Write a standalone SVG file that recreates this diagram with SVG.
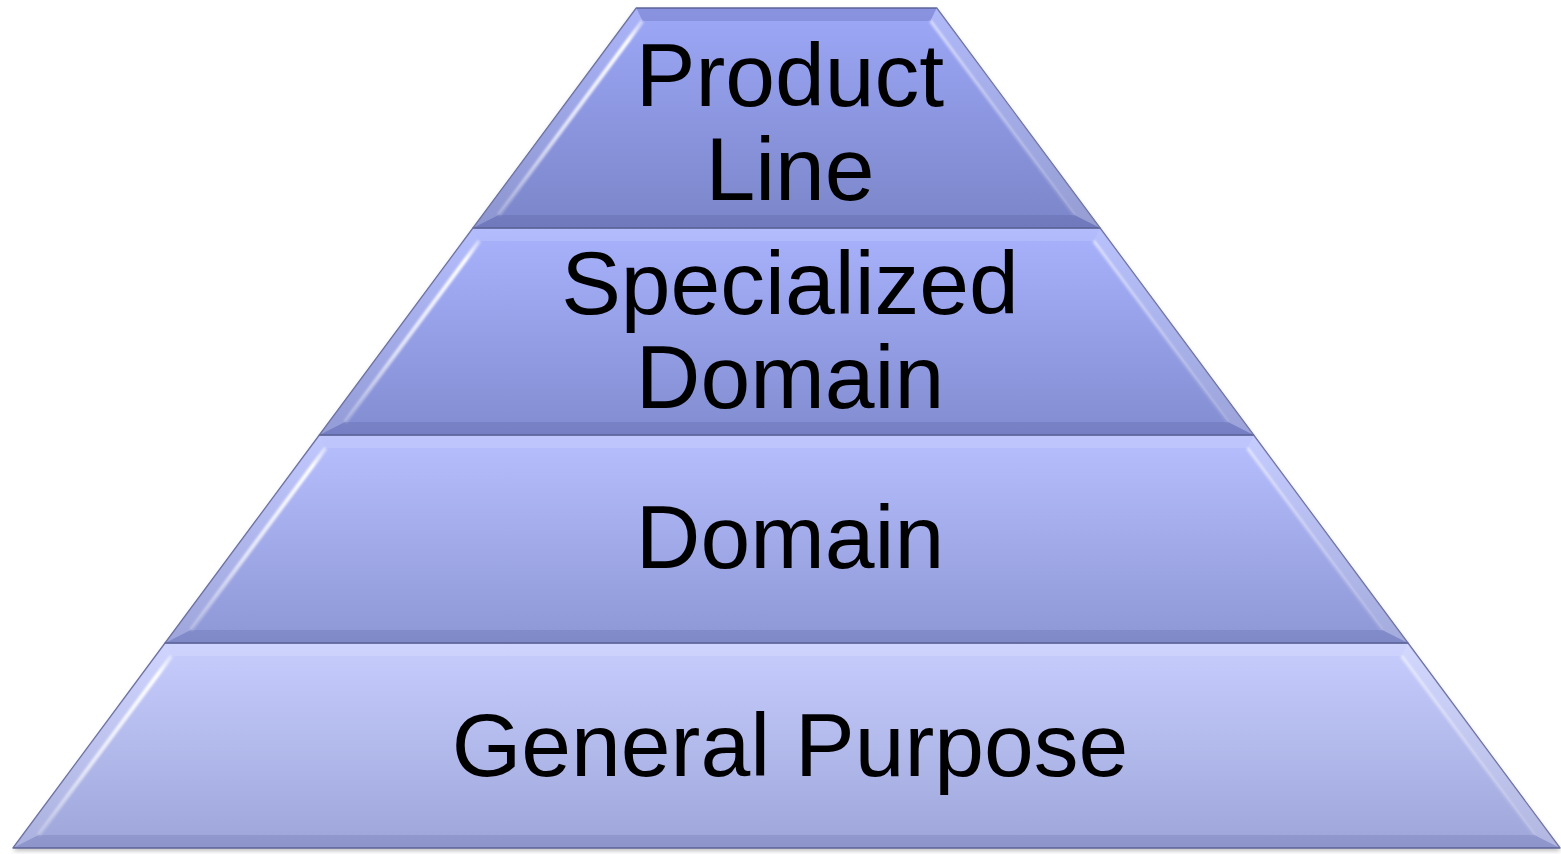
<svg xmlns="http://www.w3.org/2000/svg" width="1561" height="854" viewBox="0 0 1561 854">
<defs>
<linearGradient id="g1" x1="0" y1="0" x2="0" y2="1"><stop offset="0" stop-color="#9da8f8"/><stop offset="1" stop-color="#7b85c8"/></linearGradient>
<linearGradient id="g2" x1="0" y1="0" x2="0" y2="1"><stop offset="0" stop-color="#a9b3fd"/><stop offset="1" stop-color="#828cd0"/></linearGradient>
<linearGradient id="g3" x1="0" y1="0" x2="0" y2="1"><stop offset="0" stop-color="#b7bffe"/><stop offset="1" stop-color="#8e97d5"/></linearGradient>
<linearGradient id="g4" x1="0" y1="0" x2="0" y2="1"><stop offset="0" stop-color="#c7cefe"/><stop offset="1" stop-color="#9ea5d9"/></linearGradient>
<linearGradient id="hl" x1="1" y1="0" x2="0" y2="1"><stop offset="0" stop-color="#fff" stop-opacity="0.4"/><stop offset="0.1" stop-color="#fff" stop-opacity="1"/><stop offset="0.6" stop-color="#fff" stop-opacity="0.7"/><stop offset="1" stop-color="#fff" stop-opacity="0.25"/></linearGradient>
<linearGradient id="hr" x1="0" y1="0" x2="1" y2="1"><stop offset="0" stop-color="#fff" stop-opacity="0.55"/><stop offset="1" stop-color="#fff" stop-opacity="0.15"/></linearGradient>
<filter id="sh" x="-5%" y="-5%" width="110%" height="115%"><feGaussianBlur stdDeviation="2"/></filter>
<filter id="gl" x="-10%" y="-10%" width="120%" height="120%"><feGaussianBlur stdDeviation="0.8"/></filter>
</defs>
<style>
.out{stroke:#62689c;stroke-width:1.3;stroke-linejoin:round}
.topb{fill:#fff;fill-opacity:0.12}
.leftb{fill:#fff;fill-opacity:0.14}
.rightb{fill:#fff;fill-opacity:0.2}
.botb{fill:#2a3070;fill-opacity:0.13}
.hlin{stroke:url(#hl);stroke-width:4;fill:none;filter:url(#gl)}
.hrin{stroke:url(#hr);stroke-width:3;fill:none;filter:url(#gl)}
.lbl{font-family:"Liberation Sans",Arial,sans-serif;font-size:89.5px;fill:#000;text-anchor:middle}
</style>
<rect width="1561" height="854" fill="#fff"/>
<polygon points="636,10 937,10 1561,851 13,851" fill="#000" fill-opacity="0.25" filter="url(#sh)"/>

<g id="layer-general-purpose">
<polygon class="out" points="165.1,643 1407.9,643 1560,848 13,848" fill="url(#g4)"/>
<polygon class="topb" points="165.1,643 1407.9,643 1401.5,656 171.5,656"/>
<polygon class="leftb" points="165.1,643 171.5,656 38.6,835 13,848"/>
<polygon class="rightb" points="1407.9,643 1560,848 1534.4,835 1401.5,656"/>
<polygon class="botb" points="13,848 38.6,835 1534.4,835 1560,848"/>
<line class="hlin" x1="171.5" y1="656" x2="38.6" y2="835"/>
<line class="hrin" x1="1401.5" y1="656" x2="1534.4" y2="835"/>
<text class="lbl" x="790" y="776">General Purpose</text>
</g>

<g id="layer-domain">
<polygon class="out" points="319.4,435 1253.6,435 1407.9,643 165.1,643" fill="url(#g3)"/>
<polygon class="topb" points="319.4,435 1253.6,435 1247.2,448 325.8,448"/>
<polygon class="leftb" points="319.4,435 325.8,448 190.8,630 165.1,643"/>
<polygon class="rightb" points="1253.6,435 1407.9,643 1382.2,630 1247.2,448"/>
<polygon class="botb" points="165.1,643 190.8,630 1382.2,630 1407.9,643"/>
<line class="hlin" x1="325.8" y1="448" x2="190.8" y2="630"/>
<line class="hrin" x1="1247.2" y1="448" x2="1382.2" y2="630"/>
<text class="lbl" x="790" y="568">Domain</text>
</g>

<g id="layer-specialized-domain">
<polygon class="out" points="473,228 1100,228 1253.6,435 319.4,435" fill="url(#g2)"/>
<polygon class="topb" points="473,228 1100,228 1093.6,241 479.4,241"/>
<polygon class="leftb" points="473,228 479.4,241 345.1,422 319.4,435"/>
<polygon class="rightb" points="1100,228 1253.6,435 1227.9,422 1093.6,241"/>
<polygon class="botb" points="319.4,435 345.1,422 1227.9,422 1253.6,435"/>
<line class="hlin" x1="479.4" y1="241" x2="345.1" y2="422"/>
<line class="hrin" x1="1093.6" y1="241" x2="1227.9" y2="422"/>
<text class="lbl" x="790" y="314">Specialized</text>
<text class="lbl" x="790" y="408">Domain</text>
</g>

<g id="layer-product-line">
<polygon class="out" points="636.3,8 936.7,8 1100,228 473,228" fill="url(#g1)"/>
<polygon points="636.3,8 936.7,8 930.4,21 642.6,21" fill="#3a4080" fill-opacity="0.2"/>
<polygon class="leftb" points="636.3,8 642.6,21 498.7,215 473,228"/>
<polygon class="rightb" points="936.7,8 1100,228 1074.3,215 930.4,21"/>
<polygon class="botb" points="473,228 498.7,215 1074.3,215 1100,228"/>
<line class="hlin" x1="642.6" y1="21" x2="498.7" y2="215"/>
<line class="hrin" x1="930.4" y1="21" x2="1074.3" y2="215"/>
<text class="lbl" x="790" y="106">Product</text>
<text class="lbl" x="790" y="200">Line</text>
</g>
</svg>
